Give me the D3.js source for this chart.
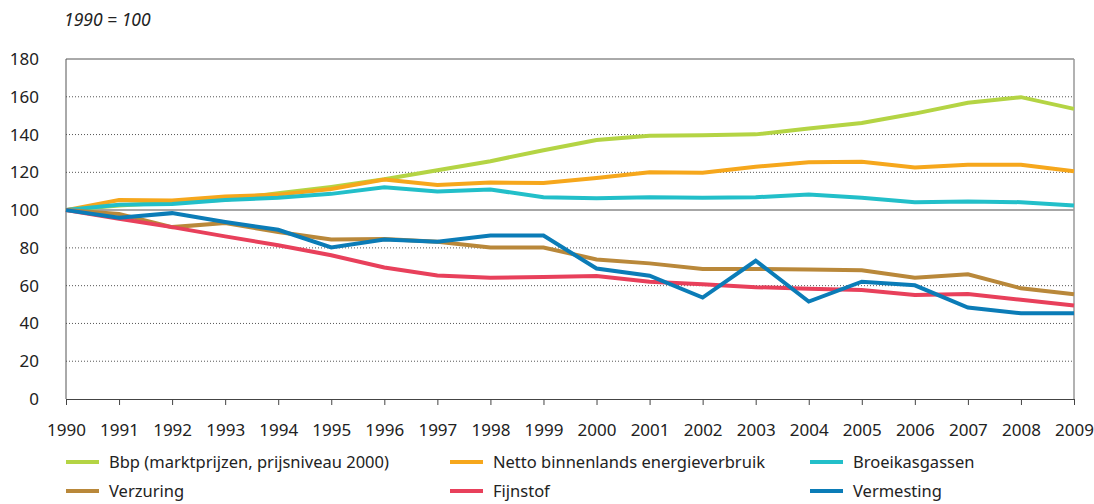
<!DOCTYPE html>
<html>
<head>
<meta charset="utf-8">
<script src="https://cdn.jsdelivr.net/npm/d3@7"></script>
<style>
  body { margin: 0; background: #fff; }
  text { font-family: "Noto Sans", "Open Sans", sans-serif; fill: #222; }
</style>
</head>
<body>
<svg id="chart" width="1094" height="504"></svg>
<script>
const years = d3.range(1990, 2010);
const yTicks = [0, 20, 40, 60, 80, 100, 120, 140, 160, 180];

const bbp = [100, 102.4, 104.1, 105.5, 108.9, 112.3, 116.3, 121.1, 125.9, 131.7, 137.1, 139.4, 139.6, 140.1, 143.2, 146.1, 151.1, 156.8, 159.8, 153.6];
const energie = [100, 105.4, 105.1, 107.2, 108.2, 111.2, 116.2, 113.3, 114.6, 114.4, 117, 120, 119.8, 123, 125.3, 125.6, 122.6, 124, 124, 120.6];
const broeikas = [100, 102.8, 103.2, 105.4, 106.5, 108.6, 112.1, 109.8, 110.9, 106.8, 106.3, 106.8, 106.5, 106.8, 108.2, 106.5, 104.2, 104.6, 104.2, 102.5];
const verzuring = [100, 98, 91, 93.2, 88.4, 84.4, 84.7, 83.2, 80.2, 80.2, 73.9, 71.8, 68.8, 68.8, 68.6, 68.2, 64.2, 66, 58.6, 55.4];
const fijnstof = [100, 95.4, 91, 86.1, 81.4, 76.1, 69.6, 65.4, 64.2, 64.6, 65.1, 62.1, 60.7, 59.2, 58.4, 57.7, 55.1, 55.6, 52.5, 49.5];
const vermesting = [100, 96, 98.4, 93.7, 89.6, 80.2, 84.4, 83.3, 86.5, 86.5, 69.1, 65.3, 53.7, 73.2, 51.6, 62.1, 60.2, 48.4, 45.4, 45.4];

const seriesNames = ["Bbp (marktprijzen, prijsniveau 2000)", "Netto binnenlands energieverbruik", "Broeikasgassen", "Verzuring", "Fijnstof", "Vermesting"];
const seriesColors = ["#b4d444", "#f6a71c", "#22bfc9", "#b9883a", "#e8405b", "#0b7cb7"];
const seriesData = [bbp, energie, broeikas, verzuring, fijnstof, vermesting];
// draw order: back to front
const drawOrder = [0, 1, 2, 3, 4, 5];

const svg = d3.select("#chart");
const plotLeft = 66, plotRight = 1074, plotTop = 59, plotBottom = 399;

const x = d3.scaleLinear().domain([1990, 2009]).range([plotLeft, plotRight]);
const y = d3.scaleLinear().domain([0, 180]).range([plotBottom, plotTop]);

svg.append("text")
  .attr("x", 64).attr("y", 26)
  .attr("font-size", 17.5).attr("font-style", "italic")
  .text("1990 = 100");

// gridlines
svg.append("g").selectAll("line")
  .data(yTicks.filter(d => d > 0 && d < 180 && d !== 100))
  .enter().append("line")
  .attr("x1", plotLeft).attr("x2", plotRight)
  .attr("y1", d => y(d)).attr("y2", d => y(d))
  .attr("stroke", "#555").attr("stroke-width", 1)
  .attr("stroke-dasharray", "1,2");

// 100 line
svg.append("line")
  .attr("x1", plotLeft).attr("x2", plotRight)
  .attr("y1", y(100)).attr("y2", y(100))
  .attr("stroke", "#888").attr("stroke-width", 1.5);

// frame: top, left, right
svg.append("path")
  .attr("d", `M${plotLeft},${plotBottom}V${plotTop}H${plotRight}`)
  .attr("fill", "none").attr("stroke", "#555").attr("stroke-width", 1);
svg.append("line")
  .attr("x1", plotRight).attr("x2", plotRight).attr("y1", plotTop).attr("y2", plotBottom)
  .attr("stroke", "#999").attr("stroke-width", 1.5);

// y labels
svg.append("g").selectAll("text")
  .data(yTicks).enter().append("text")
  .attr("x", 39).attr("y", d => y(d))
  .attr("dy", "0.35em").attr("text-anchor", "end")
  .attr("font-size", 17)
  .text(d => d);

// x axis
const xAxis = svg.append("g")
  .attr("transform", `translate(0,${plotBottom})`)
  .call(d3.axisBottom(x).tickValues(years).tickFormat(d3.format("d")).tickSize(6).tickPadding(19));
xAxis.select(".domain").attr("stroke", "#444");
xAxis.selectAll(".tick line").attr("stroke", "#444");
xAxis.selectAll("text").attr("font-size", 17).attr("fill", "#222")
  .style("font-family", '"Noto Sans", "Open Sans", sans-serif');

const line = d3.line().x((d, i) => x(years[i])).y(d => y(d));

drawOrder.forEach(i => {
  svg.append("path")
    .datum(seriesData[i])
    .attr("d", line)
    .attr("fill", "none")
    .attr("stroke", seriesColors[i])
    .attr("stroke-width", 4)
    .attr("stroke-linejoin", "miter");
});

// legend
const legendX = [66, 450, 810];
const legendY = [462, 491];
seriesNames.forEach((name, i) => {
  const lx = legendX[i % 3], ly = legendY[Math.floor(i / 3)];
  svg.append("line")
    .attr("x1", lx).attr("x2", lx + 33)
    .attr("y1", ly).attr("y2", ly)
    .attr("stroke", seriesColors[i]).attr("stroke-width", 4);
  svg.append("text")
    .attr("x", lx + 43).attr("y", ly)
    .attr("dy", "0.35em")
    .attr("font-size", 16.5)
    .text(name);
});
</script>
</body>
</html>
